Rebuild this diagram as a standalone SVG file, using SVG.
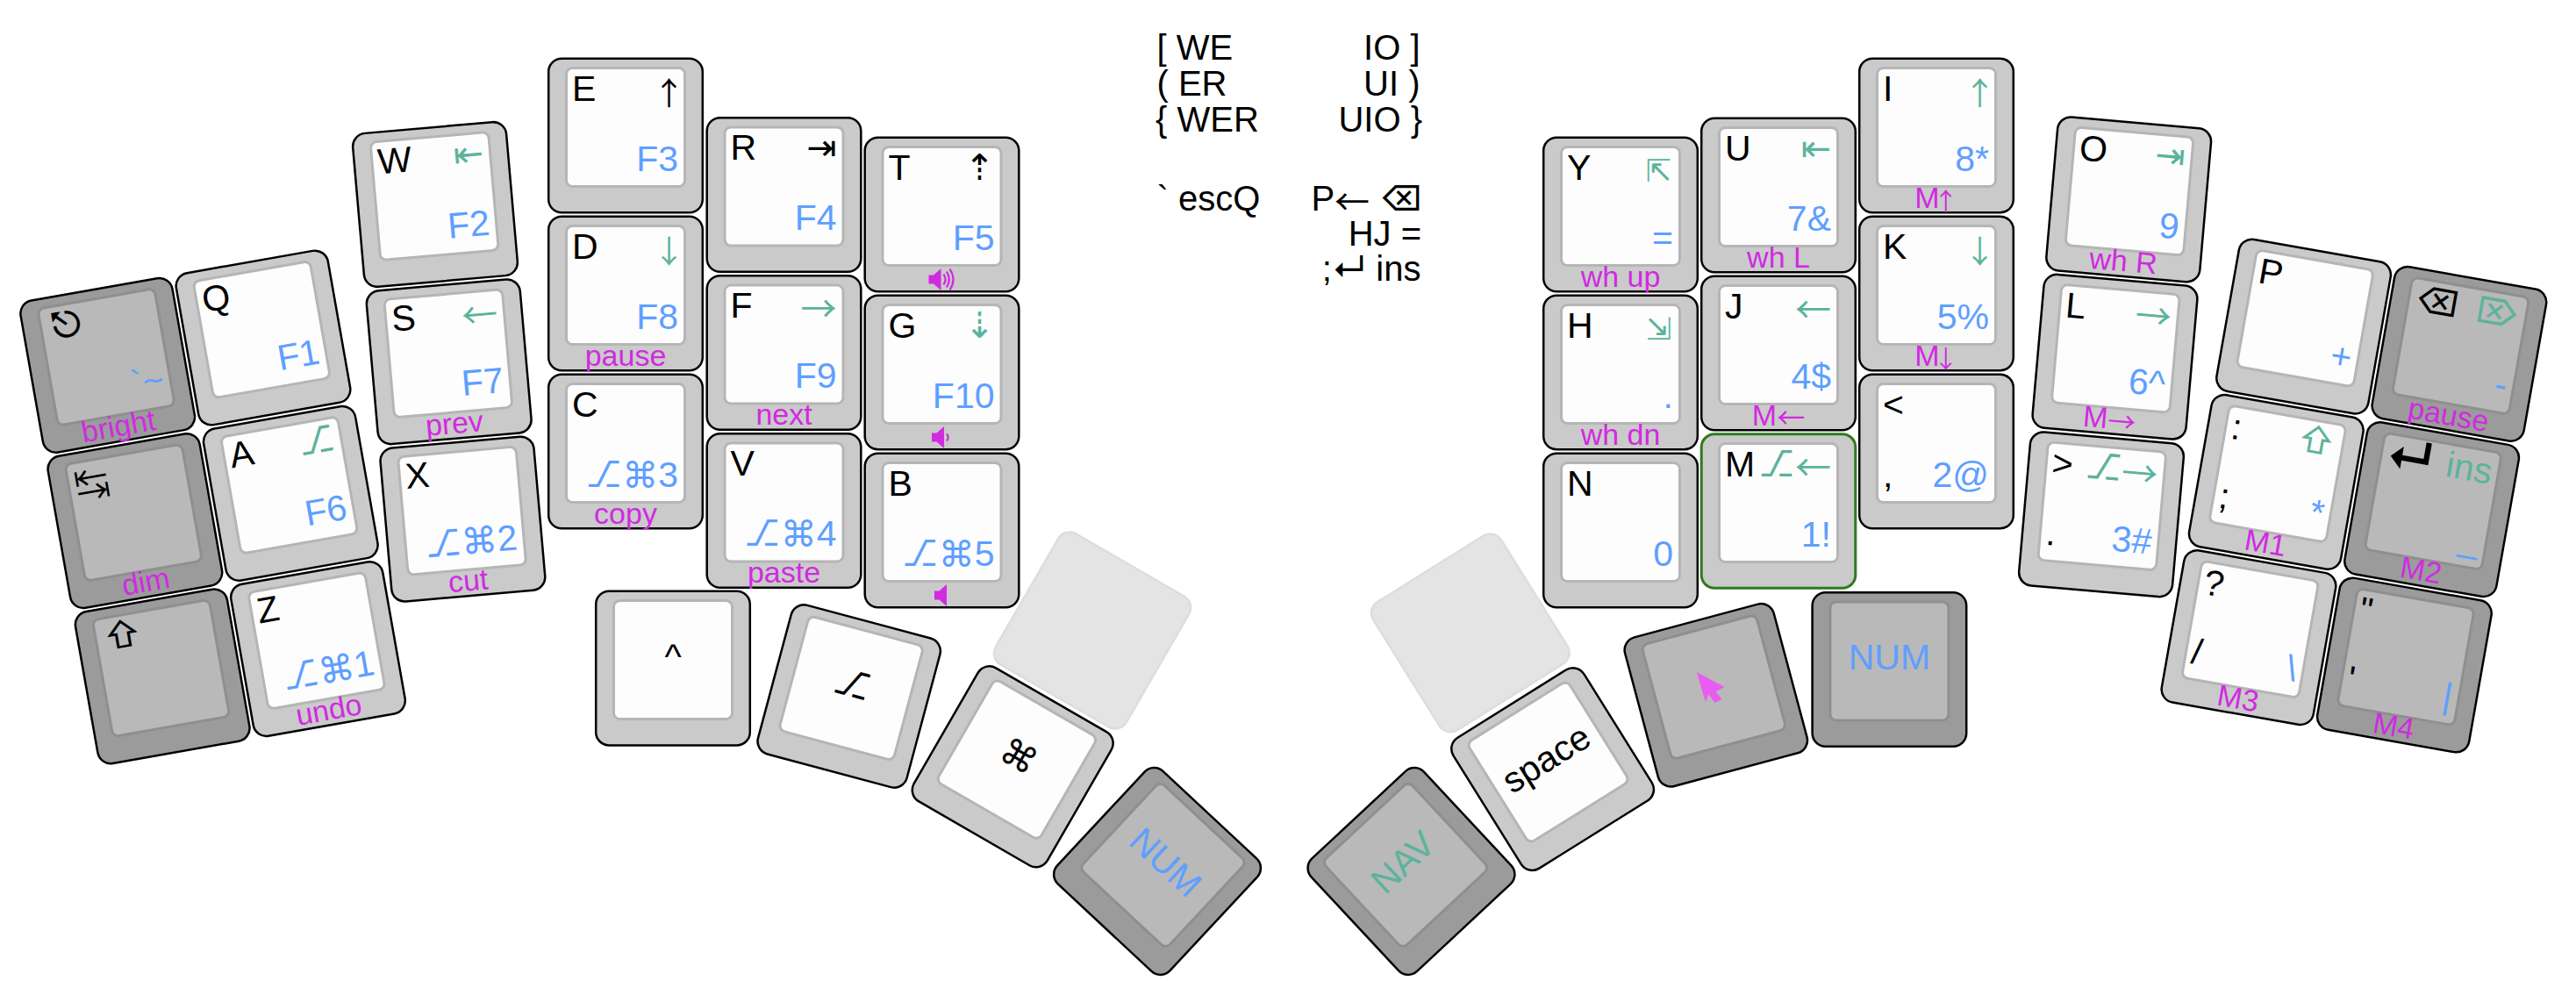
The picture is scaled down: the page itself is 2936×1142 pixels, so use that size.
<svg xmlns="http://www.w3.org/2000/svg" width="2936" height="1142" viewBox="0 0 2936 1142">
<style>
text{font-family:"Liberation Sans","DejaVu Sans",sans-serif;font-size:41px;fill:#000}
.e{text-anchor:end}.c{text-anchor:middle}
text.b{fill:#5f9fff}text.g{fill:#5cb39b}
text.m{fill:#d02be0;font-size:34px;text-anchor:middle}
.i{font-family:Inter,"DejaVu Sans",sans-serif}
.a{font-family:"Noto Sans CJK JP",sans-serif}
text.m .a{font-size:32px}
.v{font-size:36px}
text.m .v{font-size:28px}
.lo{fill:#cacaca;stroke:#000;stroke-width:2.5}.li{fill:#fdfdfd;stroke:#b5b5b5;stroke-width:3}
.do{fill:#9b9b9b;stroke:#000;stroke-width:2.5}.di{fill:#b9b9b9;stroke:#8f8f8f;stroke-width:3}
.sp{fill:#d02be0}.arc{fill:none;stroke:#d02be0;stroke-width:2.2}
</style>
<defs>
<g id="lk"><rect class="lo" x="-87.8" y="-87.8" width="175.6" height="175.6" rx="15"/><rect class="li" x="-67.5" y="-77" width="135" height="135" rx="7"/></g>
<g id="dk"><rect class="do" x="-87.8" y="-87.8" width="175.6" height="175.6" rx="15"/><rect class="di" x="-67.5" y="-77" width="135" height="135" rx="7"/></g>
<g id="gk"><rect fill="#cacaca" stroke="#2f7a1c" stroke-width="3" x="-87.8" y="-87.8" width="175.6" height="175.6" rx="15"/><rect class="li" x="-67.5" y="-77" width="135" height="135" rx="7"/></g>
<rect id="ghost" fill="#e4e4e4" stroke="#dddddd" stroke-width="2.5" x="-86" y="-86" width="172" height="172" rx="15"/>
<path id="spk" class="sp" d="M0 -5H5.500L14 -12.500V12.500L5.500 5H0Z"/>
</defs>
<g id="keys">
<g id="key-bright" transform="translate(122.700 416.300) rotate(-10)"><use href="#dk"/><text class="i" x="-58" y="-39" style="font-size:42px">⎋</text><text class="b e" x="60" y="40">`~</text><text class="m" y="82">bright</text></g>
<g id="key-dim" transform="translate(153.900 593.600) rotate(-10)"><use href="#dk"/><text class="a" x="-60" y="-35" style="font-size:38px">↹</text><text class="m" y="82">dim</text></g>
<g id="key-shift" transform="translate(185.200 770.900) rotate(-10)"><use href="#dk"/><text class="i" x="-58" y="-40">⇧</text></g>
<g id="key-q" transform="translate(300 385) rotate(-10)"><use href="#lk"/><text x="-61" y="-40">Q</text><text class="b e" x="60" y="40">F1</text></g>
<g id="key-a" transform="translate(331.300 562.300) rotate(-10)"><use href="#lk"/><text x="-61" y="-40">A</text><text class="g e i" x="60" y="-40">⎇</text><text class="b e" x="60" y="40">F6</text></g>
<g id="key-z" transform="translate(362.500 739.600) rotate(-10)"><use href="#lk"/><text x="-61" y="-40">Z</text><text class="b e" x="60" y="40"><tspan class="i">⎇⌘</tspan>1</text><text class="m" y="82">undo</text></g>
<g id="key-w" transform="translate(496 233) rotate(-5)"><use href="#lk"/><text x="-61" y="-40">W</text><text class="g e" x="60" y="-40">⇤</text><text class="b e" x="60" y="40">F2</text></g>
<g id="key-s" transform="translate(511.700 412.300) rotate(-5)"><use href="#lk"/><text x="-61" y="-40">S</text><text class="g e a" x="60" y="-35">←</text><text class="b e" x="60" y="40">F7</text><text class="m" y="82">prev</text></g>
<g id="key-x" transform="translate(527.400 591.600) rotate(-5)"><use href="#lk"/><text x="-61" y="-40">X</text><text class="b e" x="60" y="40"><tspan class="i">⎇⌘</tspan>2</text><text class="m" y="82">cut</text></g>
<g id="key-e" transform="translate(713 154.500)"><use href="#lk"/><text x="-61" y="-40">E</text><text class="e a v" x="67.600" y="-35">↑</text><text class="b e" x="60" y="40">F3</text></g>
<g id="key-d" transform="translate(713 334.500)"><use href="#lk"/><text x="-61" y="-40">D</text><text class="g e a v" x="67.600" y="-35">↓</text><text class="b e" x="60" y="40">F8</text><text class="m" y="82">pause</text></g>
<g id="key-c" transform="translate(713 514.500)"><use href="#lk"/><text x="-61" y="-40">C</text><text class="b e" x="60" y="40"><tspan class="i">⎇⌘</tspan>3</text><text class="m" y="82">copy</text></g>
<g id="key-r" transform="translate(893.500 222)"><use href="#lk"/><text x="-61" y="-40">R</text><text class="e" x="60" y="-40">⇥</text><text class="b e" x="60" y="40">F4</text></g>
<g id="key-f" transform="translate(893.500 402)"><use href="#lk"/><text x="-61" y="-40">F</text><text class="g e a" x="60" y="-35">→</text><text class="b e" x="60" y="40">F9</text><text class="m" y="82">next</text></g>
<g id="key-v" transform="translate(893.500 582)"><use href="#lk"/><text x="-61" y="-40">V</text><text class="b e" x="60" y="40"><tspan class="i">⎇⌘</tspan>4</text><text class="m" y="82">paste</text></g>
<g id="key-t" transform="translate(1073.500 244.500)"><use href="#lk"/><text x="-61" y="-40">T</text><text class="e i" x="60" y="-40">⇡</text><text class="b e" x="60" y="40">F5</text><use href="#spk" x="-15" y="74"/><path class="arc" d="M2 68Q6 74 2 80M5.500 65Q11 74 5.500 83M9 62Q17 74 9 86"/></g>
<g id="key-g" transform="translate(1073.500 424.500)"><use href="#lk"/><text x="-61" y="-40">G</text><text class="g e i" x="60" y="-40">⇣</text><text class="b e" x="60" y="40">F10</text><use href="#spk" x="-11.500" y="74"/><path class="arc" d="M5.500 70Q9 74 5.500 78"/></g>
<g id="key-b" transform="translate(1073.500 604.500)"><use href="#lk"/><text x="-61" y="-40">B</text><text class="b e" x="60" y="40"><tspan class="i">⎇⌘</tspan>5</text><use href="#spk" x="-8.500" y="74"/></g>
<g id="key-ctrl" transform="translate(767 761.600)"><use href="#lk"/><text class="c" y="0">^</text></g>
<g id="key-opt" transform="translate(967.700 793.500) rotate(15)"><use href="#lk"/><text class="c i" y="0">⎇</text></g>
<g id="key-ghost-l" transform="translate(1245 718.500) rotate(30)"><use href="#ghost"/></g>
<g id="key-cmd" transform="translate(1154.200 873.800) rotate(30)"><use href="#lk"/><text class="c i" y="0">⌘</text></g>
<g id="key-num-l" transform="translate(1319 993) rotate(43)"><use href="#dk"/><text class="b c" y="0">NUM</text></g>
<g id="key-ghost-r" transform="translate(1675.800 721.300) rotate(-32)"><use href="#ghost"/></g>
<g id="key-nav" transform="translate(1608.500 993) rotate(-43)"><use href="#dk"/><text class="g c" y="0">NAV</text></g>
<g id="key-space" transform="translate(1769.600 876.600) rotate(-32)"><use href="#lk"/><text class="c" y="0">space</text></g>
<g id="key-mouse"><use href="#dk" transform="translate(1955.800 792.300) rotate(-15)"/><polygon fill="#e95cf0" points="1933.800,766 1965.500,783 1955.500,788.400 1962.600,797 1954.700,801 1947.200,791 1944,800.500"/></g>
<g id="key-num-r" transform="translate(2153.400 763)"><use href="#dk"/><text class="b c" y="0">NUM</text></g>
<g id="key-y" transform="translate(1847 244.500)"><use href="#lk"/><text x="-61" y="-40">Y</text><text class="g e i" x="58" y="-38" style="font-size:35px">⇱</text><text class="b e" x="60" y="40">=</text><text class="m" y="82">wh up</text></g>
<g id="key-h" transform="translate(1847 424.500)"><use href="#lk"/><text x="-61" y="-40">H</text><text class="g e i" x="58" y="-38" style="font-size:35px">⇲</text><text class="b e" x="60" y="40">.</text><text class="m" y="82">wh dn</text></g>
<g id="key-n" transform="translate(1847 604.500)"><use href="#lk"/><text x="-61" y="-40">N</text><text class="b e" x="60" y="40">0</text></g>
<g id="key-u" transform="translate(2027 222.500)"><use href="#lk"/><text x="-61" y="-40">U</text><text class="g e" x="60" y="-40">⇤</text><text class="b e" x="60" y="40">7&amp;</text><text class="m" y="82">wh L</text></g>
<g id="key-j" transform="translate(2027 402.500)"><use href="#lk"/><text x="-61" y="-40">J</text><text class="g e a" x="60" y="-35">←</text><text class="b e" x="60" y="40">4$</text><text class="m" y="82">M<tspan class="a" dy="3">←</tspan></text></g>
<g id="key-m" transform="translate(2027 582.500)"><use href="#gk"/><text x="-61" y="-40">M</text><text class="g e" x="60" y="-40"><tspan class="i">⎇</tspan><tspan class="a" dy="5">←</tspan></text><text class="b e" x="60" y="40">1!</text></g>
<g id="key-i" transform="translate(2207 154.500)"><use href="#lk"/><text x="-61" y="-40">I</text><text class="g e a v" x="67.600" y="-35">↑</text><text class="b e" x="60" y="40">8*</text><text class="m" y="82">M<tspan class="a v" dx="-7" dy="3">↑</tspan></text></g>
<g id="key-k" transform="translate(2207 334.500)"><use href="#lk"/><text x="-61" y="-40">K</text><text class="g e a v" x="67.600" y="-35">↓</text><text class="b e" x="60" y="40">5%</text><text class="m" y="82">M<tspan class="a v" dx="-7" dy="3">↓</tspan></text></g>
<g id="key-comma" transform="translate(2207 514.500)"><use href="#lk"/><text x="-61" y="-40">&lt;</text><text x="-61" y="40">,</text><text class="b e" x="60" y="40">2@</text></g>
<g id="key-o" transform="translate(2426.200 227.400) rotate(5)"><use href="#lk"/><text x="-61" y="-40">O</text><text class="g e" x="60" y="-40">⇥</text><text class="b e" x="60" y="40">9</text><text class="m" y="82">wh R</text></g>
<g id="key-l" transform="translate(2410.500 406.700) rotate(5)"><use href="#lk"/><text x="-61" y="-40">L</text><text class="g e a" x="60" y="-35">→</text><text class="b e" x="60" y="40">6^</text><text class="m" y="82">M<tspan class="a" dy="3">→</tspan></text></g>
<g id="key-dot" transform="translate(2395 586.300) rotate(5)"><use href="#lk"/><text x="-61" y="-40">&gt;</text><text x="-61" y="40">.</text><text class="g e" x="60" y="-40"><tspan class="i">⎇</tspan><tspan class="a" dy="5">→</tspan></text><text class="b e" x="60" y="40">3#</text></g>
<g id="key-p" transform="translate(2625.600 372.100) rotate(10)"><use href="#lk"/><text x="-61" y="-40">P</text><text class="b e" x="60" y="40">+</text></g>
<g id="key-semi" transform="translate(2594.300 549.400) rotate(10)"><use href="#lk"/><text x="-61" y="-40">:</text><text x="-61" y="40">;</text><text class="g e i" x="58" y="-40">⇧</text><text class="b e" x="60" y="40">*</text><text class="m" y="82">M1</text></g>
<g id="key-slash" transform="translate(2563 726.700) rotate(10)"><use href="#lk"/><text x="-61" y="-40">?</text><text x="-61" y="40">/</text><text class="b e" x="60" y="40">\</text><text class="m" y="82">M3</text></g>
<g id="key-bksp" transform="translate(2802.900 403.400) rotate(10)"><use href="#dk"/><text class="i" x="-60" y="-40">⌫</text><text class="g e i" x="60" y="-40">⌦</text><text class="b e" x="60" y="40">-</text><text class="m" y="82">pause</text></g>
<g id="key-enter" transform="translate(2771.600 580.700) rotate(10)"><use href="#dk"/><text class="i" x="-62" y="-35" style="font-size:54px;font-weight:700">↵</text><text class="g e" x="60" y="-40">ins</text><text class="b e" x="60" y="40">_</text><text class="m" y="82">M2</text></g>
<g id="key-quote" transform="translate(2740.400 758) rotate(10)"><use href="#dk"/><text x="-61" y="-40">"</text><text x="-61" y="40">'</text><text class="b e" x="60" y="40">|</text><text class="m" y="82">M4</text></g>
</g>
<g id="combos">
<text x="1318.500" y="68.300" style="font-size:40px">[ WE</text>
<text x="1318.500" y="109" style="font-size:40px">( ER</text>
<text x="1317" y="149.500" style="font-size:40px">{ WER</text>
<text x="1318.500" y="240" style="font-size:40px">` escQ</text>
<text class="e" x="1618.500" y="68.300" style="font-size:40px">IO ]</text>
<text class="e" x="1618.500" y="109" style="font-size:40px">UI )</text>
<text class="e" x="1621" y="149.500" style="font-size:40px">UIO }</text>
<text class="e" x="1621" y="240" style="font-size:40px">P<tspan class="a" dy="5">←</tspan><tspan class="i" dy="-5"> ⌫</tspan></text>
<text class="e" x="1620" y="280" style="font-size:40px">HJ =</text>
<text class="e" x="1619.500" y="320" style="font-size:40px">;<tspan class="i">↵</tspan> ins</text>
</g>
</svg>
